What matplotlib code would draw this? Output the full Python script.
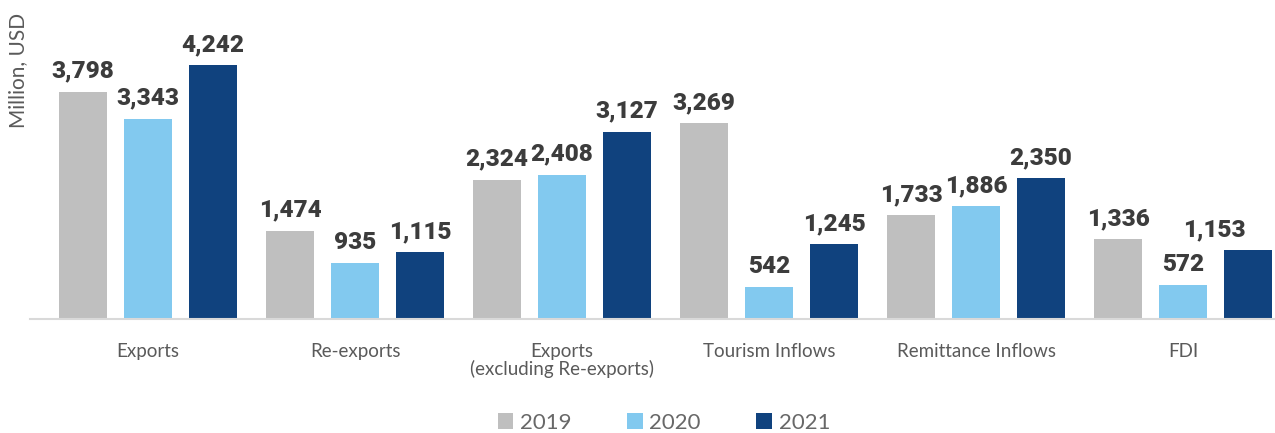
import matplotlib.pyplot as plt
import numpy as np

categories = ["Exports", "Re-exports", "Exports\n(excluding Re-exports)",
              "Tourism Inflows", "Remittance Inflows", "FDI"]
years = ["2019", "2020", "2021"]
values_2019 = [3798, 1474, 2324, 3269, 1733, 1336]
values_2020 = [3343, 935, 2408, 542, 1886, 572]
values_2021 = [4242, 1115, 3127, 1245, 2350, 1153]
colors = ["#BFBFBF", "#82C9EF", "#10427E"]

fig = plt.figure(figsize=(12.75, 4.33), dpi=100)
ax = fig.add_axes([30 / 1275, (433 - 319) / 433, 1245 / 1275, 319 / 433])

x = np.arange(len(categories))
width = 0.232
step = 0.314
xmax = 5.444
series = [values_2019, values_2020, values_2021]
for k, (vals, col, yr) in enumerate(zip(series, colors, years)):
    bars = ax.bar(x + (k - 1) * step, vals, width, color=col, label=yr)
    for b, v in zip(bars, vals):
        cx = b.get_x() + b.get_width() / 2
        ha = "center"
        # keep the last label inside the figure
        if cx + 0.15 > xmax:
            cx, ha = b.get_x() + b.get_width() - 0.13, "right"
        ax.text(cx, v + 150, f"{v:,}", ha=ha, va="bottom", fontsize=17.5,
                fontweight="heavy", family="Roboto", color="#3C3C3C")

ax.set_xlim(-0.570, xmax)
ax.set_ylim(0, 5327)
ax.set_yticks([])
ax.set_xticks(x)
ax.set_xticklabels(categories, fontsize=13.5, family="Lato",
                   color="#5A5A5A", linespacing=1.05)
ax.tick_params(axis="x", length=0, pad=17)
for side in ["top", "right", "left"]:
    ax.spines[side].set_visible(False)
ax.spines["bottom"].set_color("#D9D9D9")
ax.spines["bottom"].set_linewidth(1.5)

fig.text(18 / 1275, 1 - 70 / 433, "Million, USD", rotation=90, ha="center",
         va="center", fontsize=15, family="Lato", color="#5A5A5A")

fig.legend(loc="center", bbox_to_anchor=(664 / 1275, 1 - 423 / 433), ncol=3,
           frameon=False, handlelength=0.7, handleheight=0.7, handletextpad=0.3,
           columnspacing=2.5, prop={"family": "Lato", "size": 16})
for t in fig.legends[0].get_texts():
    t.set_color("#686868")

fig.savefig("out.png", dpi=100)
